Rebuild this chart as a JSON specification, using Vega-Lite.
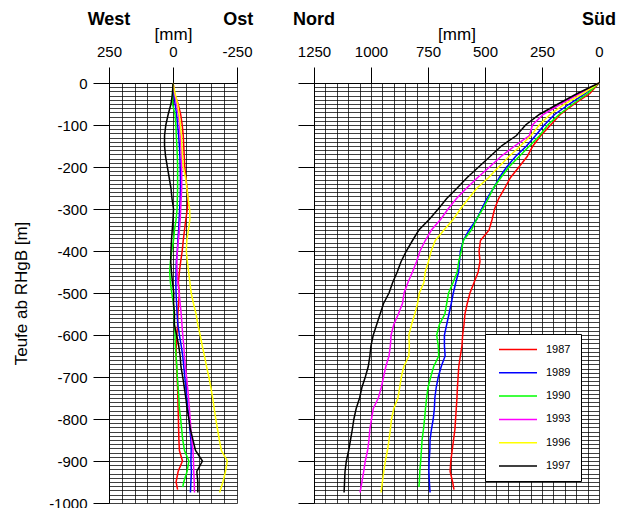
{
  "$schema": "https://vega.github.io/schema/vega-lite/v6.json",
  "padding": {"left": 12, "top": 11, "right": 0, "bottom": 0},
  "config": {
    "font": "Liberation Sans",
    "view": {"stroke": null},
    "axis": {"domainColor": "black", "tickColor": "black", "labelColor": "black", "titleColor": "black", "labelFontSize": 15, "titleFontSize": 17, "titleFontWeight": "normal", "tickSize": 16, "tickCount": 1000, "gridColor": "black", "gridOpacity": 0.75, "gridWidth": 1, "labelFlush": false, "labelOverlap": false}
  },
  "resolve": {"scale": {"color": "independent"}, "legend": {"color": "independent"}},
  "spacing": 39,
  "datasets": {
    "d": [
      {"yr":"1987","d":0,"ns":0,"ew":0},{"yr":"1987","d":-25,"ns":40,"ew":-6},{"yr":"1987","d":-50,"ns":108,"ew":-20},{"yr":"1987","d":-75,"ns":170,"ew":-30},{"yr":"1987","d":-100,"ns":212,"ew":-36},{"yr":"1987","d":-125,"ns":255,"ew":-40},{"yr":"1987","d":-150,"ns":290,"ew":-42},{"yr":"1987","d":-175,"ns":315,"ew":-44},{"yr":"1987","d":-200,"ns":351,"ew":-46},{"yr":"1987","d":-225,"ns":388,"ew":-50},{"yr":"1987","d":-250,"ns":413,"ew":-55},{"yr":"1987","d":-275,"ns":440,"ew":-58},{"yr":"1987","d":-300,"ns":458,"ew":-56},{"yr":"1987","d":-325,"ns":469,"ew":-50},{"yr":"1987","d":-350,"ns":482,"ew":-45},{"yr":"1987","d":-375,"ns":520,"ew":-40},{"yr":"1987","d":-400,"ns":526,"ew":-36},{"yr":"1987","d":-425,"ns":522,"ew":-30},{"yr":"1987","d":-450,"ns":530,"ew":-25},{"yr":"1987","d":-475,"ns":548,"ew":-21},{"yr":"1987","d":-500,"ns":566,"ew":-25},{"yr":"1987","d":-525,"ns":578,"ew":-22},{"yr":"1987","d":-550,"ns":588,"ew":-19},{"yr":"1987","d":-575,"ns":592,"ew":-18},{"yr":"1987","d":-600,"ns":598,"ew":-15},{"yr":"1987","d":-625,"ns":601,"ew":-13},{"yr":"1987","d":-650,"ns":608,"ew":-12},{"yr":"1987","d":-675,"ns":615,"ew":-14},{"yr":"1987","d":-700,"ns":618,"ew":-16},{"yr":"1987","d":-725,"ns":621,"ew":-18},{"yr":"1987","d":-750,"ns":623,"ew":-19},{"yr":"1987","d":-775,"ns":626,"ew":-20},{"yr":"1987","d":-800,"ns":629,"ew":-21},{"yr":"1987","d":-825,"ns":632,"ew":-22},{"yr":"1987","d":-850,"ns":638,"ew":-23},{"yr":"1987","d":-875,"ns":644,"ew":-25},{"yr":"1987","d":-900,"ns":650,"ew":-37},{"yr":"1987","d":-925,"ns":653,"ew":-20},{"yr":"1987","d":-950,"ns":642,"ew":-12},{"yr":"1987","d":-968,"ns":636,"ew":-18},
      {"yr":"1989","d":0,"ns":0,"ew":0},{"yr":"1989","d":-25,"ns":60,"ew":-3},{"yr":"1989","d":-50,"ns":130,"ew":-8},{"yr":"1989","d":-75,"ns":195,"ew":-14},{"yr":"1989","d":-100,"ns":240,"ew":-18},{"yr":"1989","d":-125,"ns":278,"ew":-22},{"yr":"1989","d":-150,"ns":318,"ew":-25},{"yr":"1989","d":-175,"ns":366,"ew":-27},{"yr":"1989","d":-200,"ns":405,"ew":-28},{"yr":"1989","d":-225,"ns":437,"ew":-29},{"yr":"1989","d":-250,"ns":462,"ew":-29},{"yr":"1989","d":-275,"ns":492,"ew":-28},{"yr":"1989","d":-300,"ns":515,"ew":-26},{"yr":"1989","d":-325,"ns":537,"ew":-24},{"yr":"1989","d":-350,"ns":570,"ew":-22},{"yr":"1989","d":-375,"ns":595,"ew":-19},{"yr":"1989","d":-400,"ns":608,"ew":-17},{"yr":"1989","d":-425,"ns":612,"ew":-13},{"yr":"1989","d":-450,"ns":616,"ew":-12},{"yr":"1989","d":-475,"ns":628,"ew":-11},{"yr":"1989","d":-500,"ns":639,"ew":-12},{"yr":"1989","d":-525,"ns":648,"ew":-14},{"yr":"1989","d":-550,"ns":658,"ew":-16},{"yr":"1989","d":-575,"ns":668,"ew":-19},{"yr":"1989","d":-600,"ns":678,"ew":-25},{"yr":"1989","d":-625,"ns":678,"ew":-32},{"yr":"1989","d":-650,"ns":675,"ew":-38},{"yr":"1989","d":-675,"ns":692,"ew":-42},{"yr":"1989","d":-700,"ns":705,"ew":-46},{"yr":"1989","d":-725,"ns":714,"ew":-50},{"yr":"1989","d":-750,"ns":720,"ew":-54},{"yr":"1989","d":-775,"ns":722,"ew":-58},{"yr":"1989","d":-800,"ns":727,"ew":-63},{"yr":"1989","d":-825,"ns":735,"ew":-66},{"yr":"1989","d":-850,"ns":741,"ew":-70},{"yr":"1989","d":-875,"ns":742,"ew":-71},{"yr":"1989","d":-900,"ns":745,"ew":-70},{"yr":"1989","d":-925,"ns":746,"ew":-72},{"yr":"1989","d":-950,"ns":744,"ew":-70},{"yr":"1989","d":-975,"ns":741,"ew":-68},
      {"yr":"1990","d":0,"ns":0,"ew":0},{"yr":"1990","d":-25,"ns":50,"ew":2},{"yr":"1990","d":-50,"ns":115,"ew":2},{"yr":"1990","d":-75,"ns":175,"ew":-8},{"yr":"1990","d":-100,"ns":225,"ew":-11},{"yr":"1990","d":-125,"ns":260,"ew":-13},{"yr":"1990","d":-150,"ns":305,"ew":-15},{"yr":"1990","d":-175,"ns":350,"ew":-17},{"yr":"1990","d":-200,"ns":395,"ew":-18},{"yr":"1990","d":-225,"ns":430,"ew":-18},{"yr":"1990","d":-250,"ns":463,"ew":-18},{"yr":"1990","d":-275,"ns":485,"ew":-17},{"yr":"1990","d":-300,"ns":510,"ew":-16},{"yr":"1990","d":-325,"ns":537,"ew":-12},{"yr":"1990","d":-350,"ns":560,"ew":-6},{"yr":"1990","d":-375,"ns":595,"ew":-2},{"yr":"1990","d":-400,"ns":604,"ew":5},{"yr":"1990","d":-425,"ns":615,"ew":10},{"yr":"1990","d":-450,"ns":622,"ew":13},{"yr":"1990","d":-475,"ns":640,"ew":10},{"yr":"1990","d":-500,"ns":660,"ew":5},{"yr":"1990","d":-525,"ns":668,"ew":-2},{"yr":"1990","d":-550,"ns":676,"ew":-4},{"yr":"1990","d":-575,"ns":700,"ew":-6},{"yr":"1990","d":-600,"ns":712,"ew":-8},{"yr":"1990","d":-625,"ns":705,"ew":-9},{"yr":"1990","d":-650,"ns":703,"ew":-12},{"yr":"1990","d":-675,"ns":725,"ew":-15},{"yr":"1990","d":-700,"ns":738,"ew":-17},{"yr":"1990","d":-725,"ns":750,"ew":-20},{"yr":"1990","d":-750,"ns":756,"ew":-23},{"yr":"1990","d":-775,"ns":761,"ew":-25},{"yr":"1990","d":-800,"ns":765,"ew":-30},{"yr":"1990","d":-825,"ns":770,"ew":-34},{"yr":"1990","d":-850,"ns":776,"ew":-38},{"yr":"1990","d":-875,"ns":779,"ew":-45},{"yr":"1990","d":-900,"ns":782,"ew":-62},{"yr":"1990","d":-925,"ns":786,"ew":-55},{"yr":"1990","d":-950,"ns":788,"ew":-42},{"yr":"1990","d":-962,"ns":790,"ew":-38},
      {"yr":"1993","d":0,"ns":0,"ew":0},{"yr":"1993","d":-25,"ns":85,"ew":-6},{"yr":"1993","d":-50,"ns":168,"ew":-14},{"yr":"1993","d":-75,"ns":245,"ew":-21},{"yr":"1993","d":-100,"ns":292,"ew":-25},{"yr":"1993","d":-125,"ns":305,"ew":-28},{"yr":"1993","d":-150,"ns":370,"ew":-31},{"yr":"1993","d":-175,"ns":430,"ew":-33},{"yr":"1993","d":-200,"ns":480,"ew":-34},{"yr":"1993","d":-225,"ns":532,"ew":-34},{"yr":"1993","d":-250,"ns":580,"ew":-34},{"yr":"1993","d":-275,"ns":625,"ew":-32},{"yr":"1993","d":-300,"ns":662,"ew":-30},{"yr":"1993","d":-325,"ns":695,"ew":-28},{"yr":"1993","d":-350,"ns":735,"ew":-25},{"yr":"1993","d":-375,"ns":762,"ew":-21},{"yr":"1993","d":-400,"ns":785,"ew":-17},{"yr":"1993","d":-425,"ns":800,"ew":-15},{"yr":"1993","d":-450,"ns":818,"ew":-16},{"yr":"1993","d":-475,"ns":838,"ew":-19},{"yr":"1993","d":-500,"ns":855,"ew":-24},{"yr":"1993","d":-525,"ns":862,"ew":-28},{"yr":"1993","d":-550,"ns":880,"ew":-32},{"yr":"1993","d":-575,"ns":900,"ew":-35},{"yr":"1993","d":-600,"ns":912,"ew":-38},{"yr":"1993","d":-625,"ns":915,"ew":-42},{"yr":"1993","d":-650,"ns":921,"ew":-45},{"yr":"1993","d":-675,"ns":935,"ew":-48},{"yr":"1993","d":-700,"ns":945,"ew":-53},{"yr":"1993","d":-725,"ns":955,"ew":-57},{"yr":"1993","d":-750,"ns":968,"ew":-61},{"yr":"1993","d":-775,"ns":990,"ew":-64},{"yr":"1993","d":-800,"ns":998,"ew":-67},{"yr":"1993","d":-825,"ns":1005,"ew":-70},{"yr":"1993","d":-850,"ns":1009,"ew":-74},{"yr":"1993","d":-875,"ns":1015,"ew":-78},{"yr":"1993","d":-900,"ns":1025,"ew":-80},{"yr":"1993","d":-925,"ns":1032,"ew":-81},{"yr":"1993","d":-950,"ns":1040,"ew":-83},{"yr":"1993","d":-975,"ns":1048,"ew":-84},
      {"yr":"1996","d":0,"ns":0,"ew":0},{"yr":"1996","d":-25,"ns":70,"ew":-8},{"yr":"1996","d":-50,"ns":150,"ew":-18},{"yr":"1996","d":-75,"ns":215,"ew":-24},{"yr":"1996","d":-100,"ns":262,"ew":-29},{"yr":"1996","d":-125,"ns":298,"ew":-33},{"yr":"1996","d":-150,"ns":345,"ew":-35},{"yr":"1996","d":-175,"ns":395,"ew":-37},{"yr":"1996","d":-200,"ns":440,"ew":-40},{"yr":"1996","d":-225,"ns":484,"ew":-49},{"yr":"1996","d":-250,"ns":535,"ew":-54},{"yr":"1996","d":-275,"ns":572,"ew":-59},{"yr":"1996","d":-300,"ns":608,"ew":-65},{"yr":"1996","d":-325,"ns":640,"ew":-66},{"yr":"1996","d":-350,"ns":680,"ew":-60},{"yr":"1996","d":-375,"ns":718,"ew":-54},{"yr":"1996","d":-400,"ns":736,"ew":-52},{"yr":"1996","d":-425,"ns":748,"ew":-56},{"yr":"1996","d":-450,"ns":762,"ew":-61},{"yr":"1996","d":-475,"ns":768,"ew":-66},{"yr":"1996","d":-500,"ns":788,"ew":-71},{"yr":"1996","d":-525,"ns":796,"ew":-80},{"yr":"1996","d":-550,"ns":808,"ew":-90},{"yr":"1996","d":-575,"ns":822,"ew":-97},{"yr":"1996","d":-600,"ns":834,"ew":-106},{"yr":"1996","d":-625,"ns":832,"ew":-114},{"yr":"1996","d":-650,"ns":834,"ew":-123},{"yr":"1996","d":-675,"ns":856,"ew":-131},{"yr":"1996","d":-700,"ns":867,"ew":-140},{"yr":"1996","d":-725,"ns":874,"ew":-148},{"yr":"1996","d":-750,"ns":882,"ew":-155},{"yr":"1996","d":-775,"ns":900,"ew":-161},{"yr":"1996","d":-800,"ns":910,"ew":-167},{"yr":"1996","d":-825,"ns":915,"ew":-174},{"yr":"1996","d":-850,"ns":921,"ew":-181},{"yr":"1996","d":-875,"ns":928,"ew":-189},{"yr":"1996","d":-900,"ns":937,"ew":-212},{"yr":"1996","d":-925,"ns":944,"ew":-205},{"yr":"1996","d":-950,"ns":950,"ew":-195},{"yr":"1996","d":-975,"ns":956,"ew":-182},
      {"yr":"1997","d":0,"ns":0,"ew":0},{"yr":"1997","d":-25,"ns":95,"ew":2},{"yr":"1997","d":-50,"ns":180,"ew":8},{"yr":"1997","d":-75,"ns":262,"ew":19},{"yr":"1997","d":-100,"ns":322,"ew":28},{"yr":"1997","d":-125,"ns":362,"ew":33},{"yr":"1997","d":-150,"ns":428,"ew":33},{"yr":"1997","d":-175,"ns":478,"ew":29},{"yr":"1997","d":-200,"ns":528,"ew":22},{"yr":"1997","d":-225,"ns":578,"ew":15},{"yr":"1997","d":-250,"ns":622,"ew":8},{"yr":"1997","d":-275,"ns":668,"ew":4},{"yr":"1997","d":-300,"ns":705,"ew":-2},{"yr":"1997","d":-325,"ns":745,"ew":0},{"yr":"1997","d":-350,"ns":790,"ew":3},{"yr":"1997","d":-375,"ns":818,"ew":6},{"yr":"1997","d":-400,"ns":845,"ew":8},{"yr":"1997","d":-425,"ns":868,"ew":9},{"yr":"1997","d":-450,"ns":885,"ew":6},{"yr":"1997","d":-475,"ns":905,"ew":2},{"yr":"1997","d":-500,"ns":921,"ew":-3},{"yr":"1997","d":-525,"ns":945,"ew":-2},{"yr":"1997","d":-550,"ns":960,"ew":-6},{"yr":"1997","d":-575,"ns":975,"ew":-5},{"yr":"1997","d":-600,"ns":990,"ew":-14},{"yr":"1997","d":-625,"ns":1000,"ew":-22},{"yr":"1997","d":-650,"ns":1005,"ew":-28},{"yr":"1997","d":-675,"ns":1012,"ew":-31},{"yr":"1997","d":-700,"ns":1025,"ew":-38},{"yr":"1997","d":-725,"ns":1040,"ew":-44},{"yr":"1997","d":-750,"ns":1050,"ew":-50},{"yr":"1997","d":-775,"ns":1065,"ew":-55},{"yr":"1997","d":-800,"ns":1075,"ew":-62},{"yr":"1997","d":-825,"ns":1082,"ew":-68},{"yr":"1997","d":-850,"ns":1090,"ew":-78},{"yr":"1997","d":-875,"ns":1098,"ew":-88},{"yr":"1997","d":-900,"ns":1108,"ew":-115},{"yr":"1997","d":-925,"ns":1114,"ew":-93},{"yr":"1997","d":-950,"ns":1116,"ew":-97},{"yr":"1997","d":-975,"ns":1118,"ew":-97}
    ]
  },
  "hconcat": [
    {
      "width": 128,
      "height": 420,
      "layer": [
        {
          "data": {"name": "d"},
          "mark": {"type": "line", "strokeWidth": 1.5},
          "encoding": {
            "x": {"field": "ew", "type": "quantitative", "scale": {"domain": [250, -250], "nice": false, "zero": false},
              "axis": {"orient": "top", "title": "[mm]", "titlePadding": 1, "labelPadding": 8, "grid": true, "tickCount": 1000,
                "values": [250, 200, 150, 100, 50, 0, -50, -100, -150, -200, -250],
                "labelExpr": "datum.value % 250 === 0 ? '' + datum.value : ''",
                "tickColor": {"condition": {"test": "datum.value % 250 === 0", "value": "black"}, "value": "transparent"}}},
            "y": {"field": "d", "type": "quantitative", "scale": {"domain": [-1000, 0], "nice": false, "zero": false},
              "axis": {"title": "Teufe ab RHgB [m]", "titlePadding": 18, "labelPadding": 6, "grid": true, "tickCount": 1000,
                "values": [0,-10,-20,-30,-40,-50,-60,-70,-80,-90,-100,-110,-120,-130,-140,-150,-160,-170,-180,-190,-200,-210,-220,-230,-240,-250,-260,-270,-280,-290,-300,-310,-320,-330,-340,-350,-360,-370,-380,-390,-400,-410,-420,-430,-440,-450,-460,-470,-480,-490,-500,-510,-520,-530,-540,-550,-560,-570,-580,-590,-600,-610,-620,-630,-640,-650,-660,-670,-680,-690,-700,-710,-720,-730,-740,-750,-760,-770,-780,-790,-800,-810,-820,-830,-840,-850,-860,-870,-880,-890,-900,-910,-920,-930,-940,-950,-960,-970,-980,-990,-1000],
                "labelExpr": "datum.value % 100 === 0 ? '' + datum.value : ''",
                "tickColor": {"condition": {"test": "datum.value % 100 === 0", "value": "black"}, "value": "transparent"}}},
            "color": {"field": "yr", "type": "nominal", "scale": {"domain": ["1987", "1989", "1990", "1993", "1996", "1997"], "range": ["#ff0000", "#0000ff", "#00ff00", "#ff00ff", "#ffff00", "#000000"]}, "legend": null},
            "order": {"field": "d", "sort": "descending"}
          }
        },
        {
          "data": {"values": [{"lbl": "West", "px": 250, "py": 150}, {"lbl": "Ost", "px": -255, "py": 150}]},
          "mark": {"type": "text", "fontWeight": "bold", "fontSize": 18, "align": "center", "baseline": "middle"},
          "encoding": {"x": {"field": "px", "type": "quantitative"}, "y": {"field": "py", "type": "quantitative"}, "text": {"field": "lbl"}}
        }
      ]
    },
    {
      "width": 285,
      "height": 420,
      "layer": [
        {
          "data": {"name": "d"},
          "mark": {"type": "line", "strokeWidth": 1.5},
          "encoding": {
            "x": {"field": "ns", "type": "quantitative", "scale": {"domain": [1250, 0], "nice": false, "zero": false},
              "axis": {"orient": "top", "title": "[mm]", "titlePadding": 1, "labelPadding": 8, "grid": true, "tickCount": 1000,
                "values": [1250,1200,1150,1100,1050,1000,950,900,850,800,750,700,650,600,550,500,450,400,350,300,250,200,150,100,50,0],
                "labelExpr": "datum.value % 250 === 0 ? '' + datum.value : ''",
                "tickColor": {"condition": {"test": "datum.value % 250 === 0", "value": "black"}, "value": "transparent"}}},
            "y": {"field": "d", "type": "quantitative", "scale": {"domain": [-1000, 0], "nice": false, "zero": false},
              "axis": {"title": null, "labels": false, "grid": true, "tickCount": 1000,
                "values": [0,-10,-20,-30,-40,-50,-60,-70,-80,-90,-100,-110,-120,-130,-140,-150,-160,-170,-180,-190,-200,-210,-220,-230,-240,-250,-260,-270,-280,-290,-300,-310,-320,-330,-340,-350,-360,-370,-380,-390,-400,-410,-420,-430,-440,-450,-460,-470,-480,-490,-500,-510,-520,-530,-540,-550,-560,-570,-580,-590,-600,-610,-620,-630,-640,-650,-660,-670,-680,-690,-700,-710,-720,-730,-740,-750,-760,-770,-780,-790,-800,-810,-820,-830,-840,-850,-860,-870,-880,-890,-900,-910,-920,-930,-940,-950,-960,-970,-980,-990,-1000],
                "tickColor": {"condition": {"test": "datum.value % 100 === 0", "value": "black"}, "value": "transparent"}}},
            "color": {"field": "yr", "type": "nominal", "scale": {"domain": ["1987", "1989", "1990", "1993", "1996", "1997"], "range": ["#ff0000", "#0000ff", "#00ff00", "#ff00ff", "#ffff00", "#000000"]},
              "legend": {"orient": "none", "legendX": 171, "legendY": 251, "title": null, "symbolType": "M-0.43,0H10.43", "symbolSize": 49, "symbolStrokeWidth": 1.5, "labelFontSize": 11, "labelOffset": 40, "padding": 10, "rowPadding": 11.3, "strokeColor": "black", "fillColor": "white", "labelColor": "black"}},
            "order": {"field": "d", "sort": "descending"}
          }
        },
        {
          "data": {"values": [{"lbl": "Nord", "px": 1250, "py": 150}, {"lbl": "Süd", "px": 0, "py": 150}]},
          "mark": {"type": "text", "fontWeight": "bold", "fontSize": 18, "align": "center", "baseline": "middle"},
          "encoding": {"x": {"field": "px", "type": "quantitative"}, "y": {"field": "py", "type": "quantitative"}, "text": {"field": "lbl"}}
        }
      ]
    }
  ]
}
